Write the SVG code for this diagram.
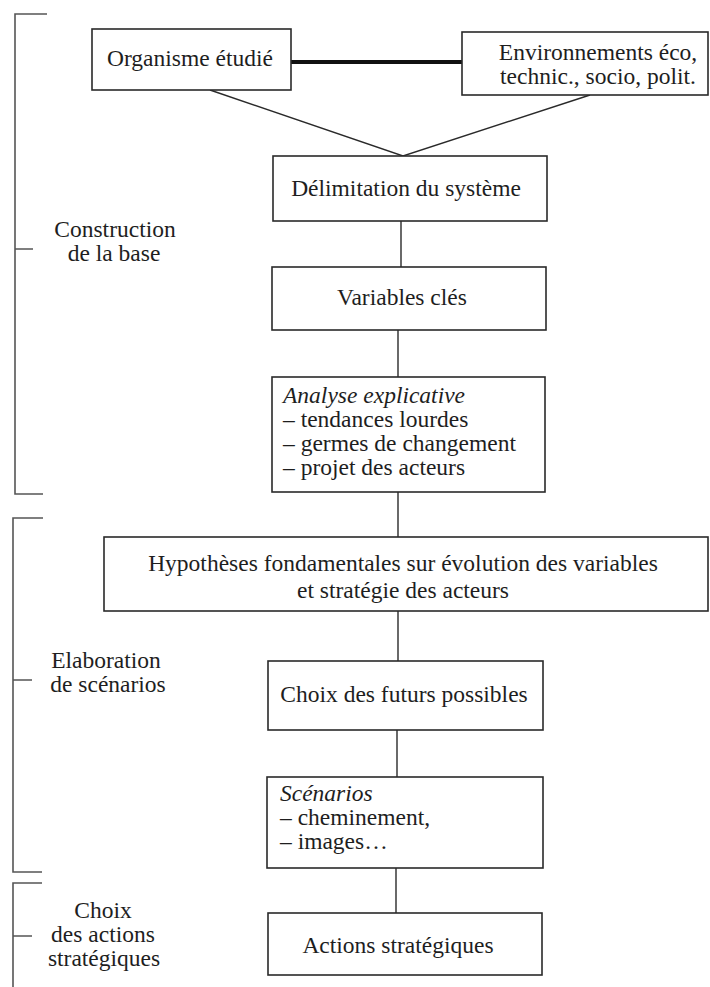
<svg xmlns="http://www.w3.org/2000/svg" width="710" height="987" viewBox="0 0 710 987">
<style>
text{font-family:"Liberation Serif","DejaVu Serif",serif;font-size:23.5px;fill:#1e1e1e}
.c{text-anchor:middle}
.i{font-style:italic}
.box{fill:#fff;stroke:#2a2a2a;stroke-width:1.6}
.ln{stroke:#2a2a2a;stroke-width:1.4;fill:none}
.br{stroke:#555;stroke-width:1.6;fill:none}
</style>
<rect width="710" height="987" fill="#fff"/>
<g id="brackets">
<path class="br" d="M47,14 H15 V494 H43 M15,249 H33"/>
<path class="br" d="M43,518 H13 V872 H42 M13,680 H32"/>
<path class="br" d="M42,883 H13 V987 M13,936 H32"/>
</g>
<g id="labels">
<text class="c" x="115" y="237">Construction</text>
<text class="c" x="114" y="261">de la base</text>
<text class="c" x="106" y="668">Elaboration</text>
<text class="c" x="108" y="692">de scénarios</text>
<text class="c" x="103" y="918">Choix</text>
<text class="c" x="103" y="942">des actions</text>
<text class="c" x="104" y="966">stratégiques</text>
</g>
<g id="connectors">
<line x1="291" y1="62" x2="462" y2="62" stroke="#111" stroke-width="4"/>
<polyline class="ln" points="210,90 403,156 590,95"/>
<line class="ln" x1="401" y1="221" x2="401" y2="267"/>
<line class="ln" x1="398" y1="330" x2="398" y2="377"/>
<line class="ln" x1="398" y1="492" x2="398" y2="537"/>
<line class="ln" x1="398" y1="611" x2="398" y2="661"/>
<line class="ln" x1="397" y1="730" x2="397" y2="777"/>
<line class="ln" x1="396" y1="868" x2="396" y2="913"/>
</g>
<g id="organisme">
<rect class="box" x="92" y="29" width="199" height="61"/>
<text class="c" x="190" y="66">Organisme étudié</text>
</g>
<g id="environnements">
<rect class="box" x="462" y="32" width="246" height="63"/>
<text class="c" x="598" y="60">Environnements éco,</text>
<text class="c" x="598" y="84">technic., socio, polit.</text>
</g>
<g id="delimitation">
<rect class="box" x="273" y="156" width="274" height="65"/>
<text class="c" x="406" y="196">Délimitation du système</text>
</g>
<g id="variables">
<rect class="box" x="272" y="267" width="274" height="63"/>
<text class="c" x="402" y="305">Variables clés</text>
</g>
<g id="analyse">
<rect class="box" x="272" y="377" width="273" height="115"/>
<text class="i" x="283" y="403">Analyse explicative</text>
<text x="283" y="427">– tendances lourdes</text>
<text x="283" y="451">– germes de changement</text>
<text x="283" y="475">– projet des acteurs</text>
</g>
<g id="hypotheses">
<rect class="box" x="104" y="537" width="604" height="74"/>
<text class="c" x="403" y="571">Hypothèses fondamentales sur évolution des variables</text>
<text class="c" x="403" y="598">et stratégie des acteurs</text>
</g>
<g id="choix">
<rect class="box" x="268" y="661" width="275" height="69"/>
<text class="c" x="404" y="702">Choix des futurs possibles</text>
</g>
<g id="scenarios">
<rect class="box" x="267" y="777" width="276" height="91"/>
<text class="i" x="280" y="801">Scénarios</text>
<text x="280" y="825">– cheminement,</text>
<text x="280" y="849">– images…</text>
</g>
<g id="actions">
<rect class="box" x="268" y="913" width="274" height="62"/>
<text class="c" x="398" y="953">Actions stratégiques</text>
</g>
</svg>
